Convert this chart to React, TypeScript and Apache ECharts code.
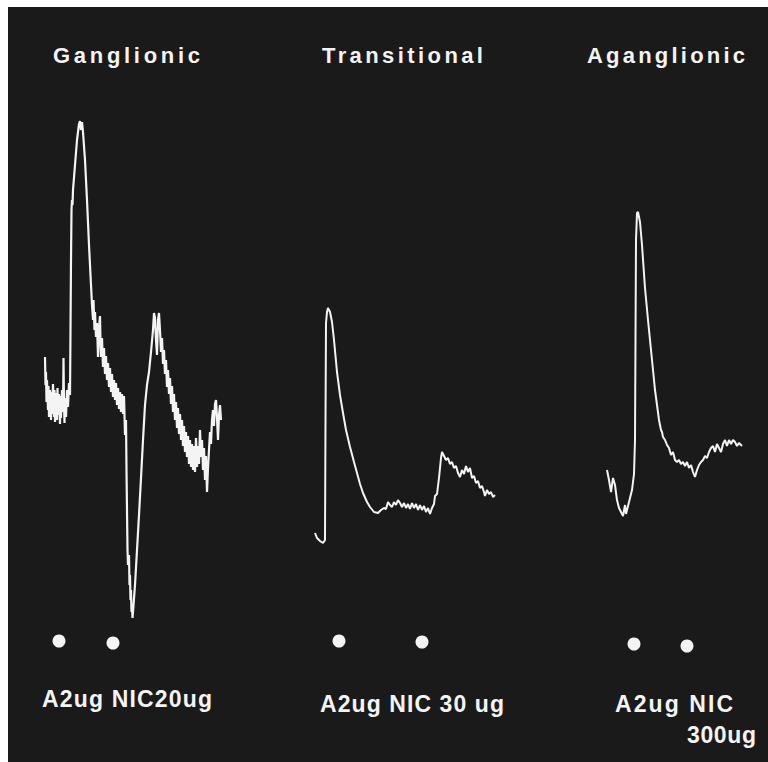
import React, { useEffect, useRef } from "react";
import * as echarts from "echarts";

// Time in recorder ticks from the start of each sweep, deflection in recorder units (up = positive).
const ganglionicT = [
  5, 5.5, 6, 6.5, 7, 8, 8.5, 9, 10, 11, 11.5, 12, 13, 14, 14.5, 15, 16, 17, 17.5, 18, 19, 20, 20.5, 21, 22, 23, 23.5, 24, 24.5, 25, 26, 27, 28, 29, 30,
  30.5, 31, 31.5, 32, 32.5, 33, 35, 37, 39, 40, 41, 42, 43,
  45, 47, 49, 51, 52, 53, 53.5, 54.5, 55, 56, 57, 58, 59, 60, 60.5, 61, 62, 63, 64, 65, 66, 67, 68, 69, 70, 71, 72, 73, 74, 75, 76, 77, 78, 79, 80, 81, 82, 83, 84, 85, 86,
  86.5, 87, 87.5, 88, 89, 89.5, 90, 90.5, 91, 91.5, 92, 92.5,
  93, 95, 97, 99, 101, 103, 105, 107, 109, 111, 113, 114, 115, 116, 117, 118, 119, 120, 121, 122, 123, 124, 125, 126, 127, 128, 129, 130,
  131, 132, 133, 134, 135, 136, 137, 138, 139, 140, 141, 142, 143, 144, 145, 146, 147, 148, 149, 150, 151, 152, 153, 154, 155, 156, 157, 158, 159, 160,
  161, 162, 163, 164, 165, 166, 167, 168, 169, 170, 171, 172, 173, 174, 175, 176, 177, 178, 179, 180, 181,
];
const ganglionicV = [
  263, 235, 248, 218, 240, 210, 234, 203, 230, 200, 228, 206, 236, 203, 230, 198, 227, 200, 232, 205, 226, 196, 224, 202, 230, 208, 262, 218, 197, 222, 203, 230, 213, 237, 225,
  290, 360, 410, 420, 415, 430, 455, 480, 496, 499, 490, 498, 488,
  460, 420, 375, 335, 315, 300, 320, 290, 308, 283, 297, 263, 292, 304, 278, 263, 282, 253, 272, 246, 264, 240, 257, 233, 252, 228, 246, 223, 240, 220, 237, 215, 232, 211, 228, 208, 226, 206, 224, 185, 200,
  150, 110, 70, 55, 65, 35, 45, 20, 30, 8, 15, 2,
  8, 35, 70, 105, 142, 180, 215, 235, 248, 268, 290, 307, 302, 280, 265, 300, 307, 290, 268, 282, 256, 270, 246, 260, 233, 250, 226, 242,
  216, 234, 208, 226, 200, 218, 192, 212, 186, 206, 180, 200, 174, 194, 168, 188, 163, 184, 156, 180, 153, 176, 150, 174, 148, 182, 153, 174, 156, 190,
  163, 180, 150, 172, 140, 164, 128, 152, 170, 188, 176, 200, 210, 194, 216, 220, 202, 180, 205, 215, 200,
];

const transitionalT = [
  5, 7, 10, 13, 15, 15.5, 16, 17, 18, 20, 22, 24, 27, 30, 33, 36, 40, 44, 47, 50, 53, 57, 60, 64, 68, 71, 74, 76, 78, 80,
  82, 84, 86, 88, 90, 92, 94, 96, 98, 100, 102, 104, 106, 108, 110, 112, 114, 116, 118, 120, 122, 124, 125, 127, 129, 130,
  131, 132, 134, 136, 138, 140, 142, 144, 146, 148, 150, 152, 154, 156, 158, 160, 162, 164, 166, 168, 170, 172, 174, 175,
  177, 179, 181, 183, 185,
];
const transitionalV = [
  87, 82, 79, 77, 80, 200, 297, 308, 312, 308, 298, 280, 248, 225, 207, 190, 173, 158, 147, 136, 127, 118, 113, 108, 107, 110, 112, 111, 118, 115,
  113, 118, 115, 120, 117, 113, 117, 112, 116, 111, 117, 112, 116, 110, 115, 110, 114, 108, 112, 106, 112, 116, 124, 126, 142, 152,
  162, 168, 164, 160, 162, 156, 158, 152, 154, 147, 143, 150, 146, 154, 148, 152, 142, 144, 137, 139, 132, 134, 128, 124,
  130, 126, 128, 123, 125,
];

const aganglionicT = [
  7, 9, 11, 13, 15, 17, 19, 21, 23, 25, 26, 28, 30, 32, 34, 35, 35.5, 36, 37, 38, 40, 42, 45, 48, 50, 53, 55, 57, 59, 61, 62, 63,
  65, 67, 69, 71, 73, 75, 77, 79, 81, 83, 85, 87, 89, 91, 93, 95, 97, 99, 101, 103, 105, 107, 109, 111, 113, 115, 117, 119,
  121, 123, 125, 127, 129, 131, 133, 135, 137, 139, 142,
];
const aganglionicV = [
  150, 140, 128, 142, 135, 120, 112, 108, 104, 115, 106, 114, 122, 130, 146, 180, 280, 380, 407, 408, 398, 375, 332, 300, 280, 250, 230, 215, 200, 190, 188, 183,
  180, 175, 172, 165, 168, 160, 158, 160, 156, 158, 154, 158, 152, 155, 148, 143, 150, 155, 158, 160, 164, 162, 168, 172, 174, 168, 176, 172,
  168, 176, 180, 174, 180, 176, 180, 178, 174, 177, 174,
];

// Stimulus marks: A2ug then NIC, one pair per sweep.
const ganglionicStimT = [19, 73];
const ganglionicStimV = [-21, -23];
const transitionalStimT = [29, 112];
const transitionalStimV = [-21, -22];
const aganglionicStimT = [34, 87];
const aganglionicStimV = [-24, -26];

const panelTitles = ["Ganglionic", "Transitional", "Aganglionic"];
const doseLabels = ["A2ug NIC20ug", "A2ug NIC 30 ug", "A2ug NIC", "300ug"];

const zip = (t: number[], v: number[]) => t.map((x, i) => [x, v[i]]);

const INK = "#f4f4f4";
const FONT = "'Liberation Sans', Arial, sans-serif";

// Panel frames in chart pixels: left, width (top/height shared).
const panels = [
  { left: 32, width: 190 },
  { left: 302, width: 200 },
  { left: 592, width: 160 },
];

// Text placements with the width each string is spread across.
const textLayout = [
  { text: panelTitles[0], x: 45, y: 37, size: 22, span: 147 },
  { text: panelTitles[1], x: 314, y: 37, size: 22, span: 161 },
  { text: panelTitles[2], x: 579, y: 37, size: 22, span: 158 },
  { text: doseLabels[0], x: 34, y: 680, size: 23, span: 170 },
  { text: doseLabels[1], x: 312, y: 685, size: 23, span: 184 },
  { text: doseLabels[2], x: 607, y: 685, size: 23, span: 118 },
  { text: doseLabels[3], x: 679, y: 716, size: 23, span: 69 },
];

export default function App() {
  const ref = useRef<HTMLDivElement>(null);

  useEffect(() => {
    if (!ref.current) return;
    const chart = echarts.init(ref.current, undefined, { renderer: "svg" });

    const traces = [
      zip(ganglionicT, ganglionicV),
      zip(transitionalT, transitionalV),
      zip(aganglionicT, aganglionicV),
    ];
    const stims = [
      zip(ganglionicStimT, ganglionicStimV),
      zip(transitionalStimT, transitionalStimV),
      zip(aganglionicStimT, aganglionicStimV),
    ];

    chart.setOption({
      animation: false,
      backgroundColor: "#1a1a1a",
      grid: panels.map((p) => ({ left: p.left, width: p.width, top: 93, height: 560 })),
      xAxis: panels.map((p, i) => ({ type: "value", gridIndex: i, min: 0, max: p.width, show: false })),
      yAxis: panels.map((_, i) => ({ type: "value", gridIndex: i, min: -40, max: 520, show: false })),
      series: [
        ...traces.map((d, i) => ({
          type: "line",
          xAxisIndex: i,
          yAxisIndex: i,
          data: d,
          showSymbol: false,
          clip: false,
          lineStyle: { color: INK, width: i === 0 ? 2.2 : 2 },
        })),
        ...stims.map((d, i) => ({
          type: "scatter",
          xAxisIndex: i,
          yAxisIndex: i,
          data: d,
          symbolSize: 13,
          itemStyle: { color: INK, opacity: 1 },
        })),
      ],
      graphic: textLayout.map((t) => ({
        type: "text",
        x: t.x,
        y: t.y,
        style: {
          text: t.text,
          fill: INK,
          font: `bold ${t.size}px ${FONT}`,
          verticalAlign: "top",
        },
      })),
    });

    // Spread each label across its span.
    const spread = () => {
      const nodes = ref.current?.querySelectorAll("text") ?? [];
      nodes.forEach((node) => {
        const el = node as SVGTextElement;
        const item = textLayout.find((t) => t.text === el.textContent);
        if (!item) return;
        el.setAttribute("letter-spacing", "0");
        const len = el.getComputedTextLength();
        const n = item.text.length;
        if (n > 1) el.setAttribute("letter-spacing", String((item.span - len) / (n - 1)));
      });
    };
    spread();
    chart.on("finished", spread);

    return () => chart.dispose();
  }, []);

  return (
    <div
      ref={ref}
      style={{ position: "fixed", left: 8, top: 7, width: 760, height: 755 }}
    />
  );
}
